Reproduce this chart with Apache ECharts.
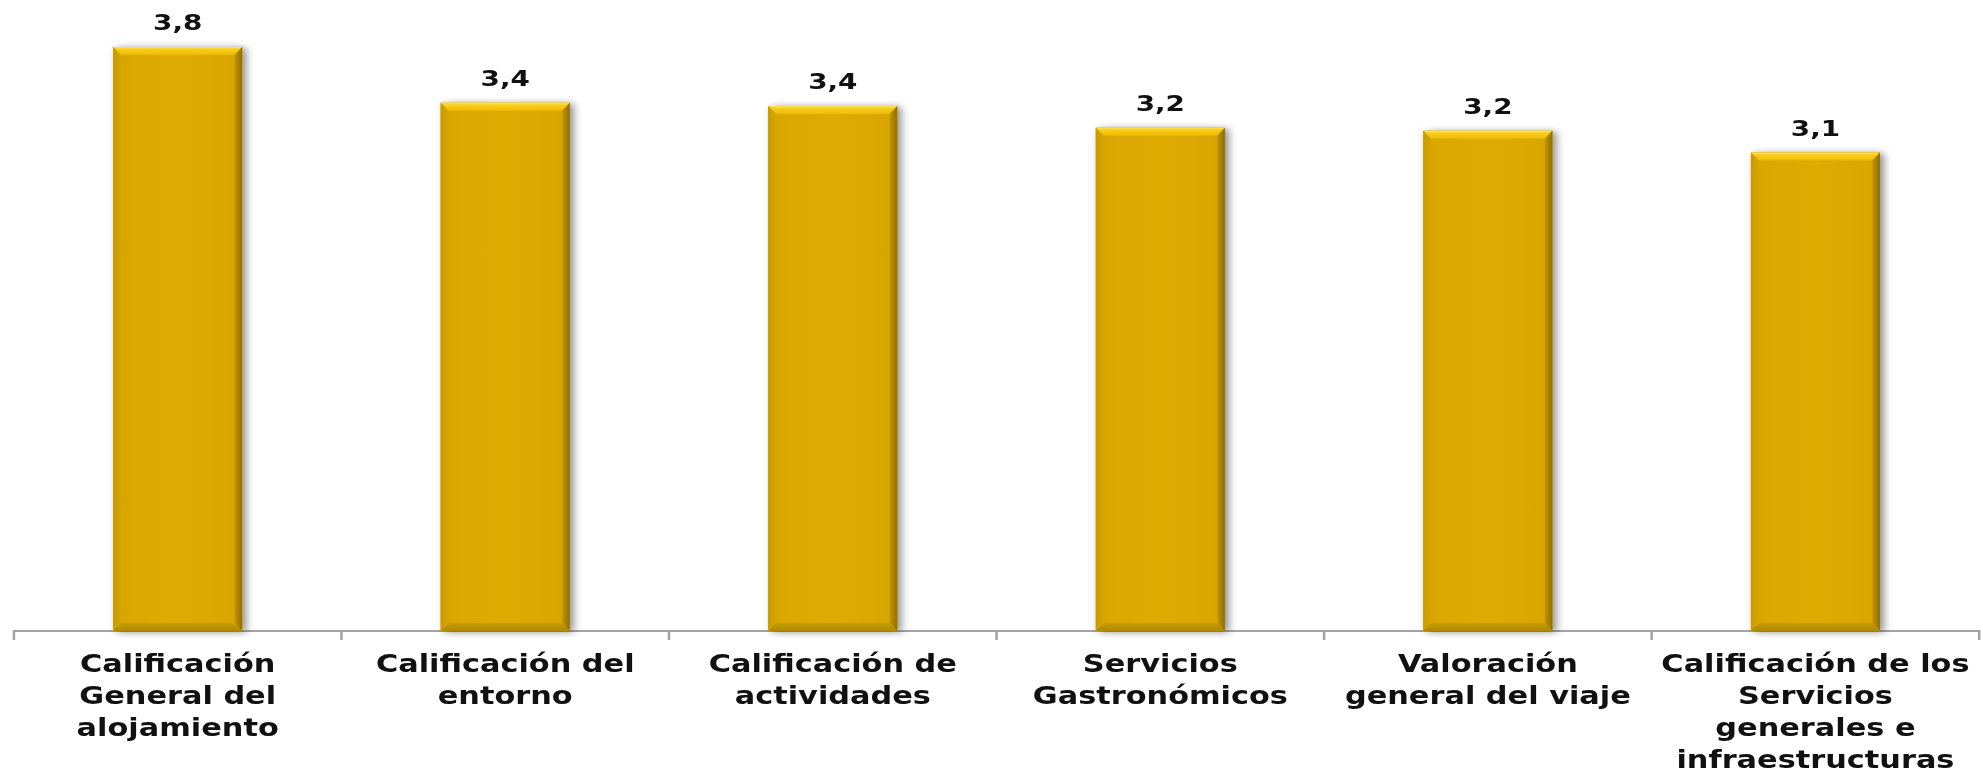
<!DOCTYPE html>
<html>
<head>
<meta charset="utf-8">
<script src="https://cdn.jsdelivr.net/npm/echarts@6/dist/echarts.min.js"></script>
<style>
html,body{margin:0;padding:0;background:#fff;overflow:hidden;}
#wrap{width:1983px;height:776px;overflow:hidden;}
#c{width:1568px;height:776px;transform:scaleX(1.26467);transform-origin:0 0;}
</style>
</head>
<body>
<div id="wrap"><div id="c"></div></div>
<script>
const categories = [
  'Calificación\nGeneral del\nalojamiento',
  'Calificación del\nentorno',
  'Calificación de\nactividades',
  'Servicios\nGastronómicos',
  'Valoración\ngeneral del viaje',
  'Calificación de los\nServicios\ngenerales e\ninfraestructuras'
];
const values = [3.76, 3.40, 3.38, 3.24, 3.22, 3.08];

const BAR_RATIO = 0.394;

function renderBevelBar(params, api) {
  const i = api.value(0), v = api.value(1);
  const top = api.coord([i, v]);
  const base = api.coord([i, 0]);
  const bw = api.size([1, 0])[0] * BAR_RATIO;
  const l = top[0] - bw / 2, r = top[0] + bw / 2, t = top[1], b = base[1];
  const dx = 6, dy = 8;
  return {
    type: 'group',
    children: [
      { type: 'rect', shape: { x: l, y: t, width: bw, height: b - t },
        style: { fill: '#DDAA02', shadowColor: 'rgba(0,0,0,0.45)', shadowBlur: 7, shadowOffsetX: 3, shadowOffsetY: 1 } },
      { type: 'rect', shape: { x: l, y: t, width: bw, height: b - t },
        style: { fill: { type: 'linear', x: 0, y: 0, x2: 1, y2: 0, colorStops: [
          { offset: 0, color: '#D9A600' }, { offset: 0.5, color: '#DEAB03' }, { offset: 1, color: '#D8A500' } ] } } },
      { type: 'polygon', shape: { points: [[l, t], [r, t], [r - dx, t + dy], [l + dx, t + dy]] },
        style: { fill: { type: 'linear', x: 0, y: 0, x2: 0, y2: 1, colorStops: [
          { offset: 0, color: '#FFE060' }, { offset: 0.35, color: '#F8CC14' }, { offset: 1, color: '#EDBB06' } ] } } },
      { type: 'polygon', shape: { points: [[r, t], [r, b], [r - dx, b - dy], [r - dx, t + dy]] },
        style: { fill: { type: 'linear', x: 0, y: 0, x2: 1, y2: 0, colorStops: [
          { offset: 0, color: '#C39400' }, { offset: 1, color: '#8E6E00' } ] } } },
      { type: 'polygon', shape: { points: [[l, t], [l + dx, t + dy], [l + dx, b - dy], [l, b]] },
        style: { fill: { type: 'linear', x: 0, y: 0, x2: 1, y2: 0, colorStops: [
          { offset: 0, color: '#C99B00' }, { offset: 1, color: '#D6A402' } ] } } },
      { type: 'polygon', shape: { points: [[l, b], [l + dx, b - dy], [r - dx, b - dy], [r, b]] },
        style: { fill: { type: 'linear', x: 0, y: 0, x2: 0, y2: 1, colorStops: [
          { offset: 0, color: '#C89A00' }, { offset: 1, color: '#B08800' } ] } } }
    ]
  };
}

const chart = echarts.init(document.getElementById('c'), null, { renderer: 'svg' });
chart.setOption({
  animation: false,
  backgroundColor: '#ffffff',
  grid: { left: 11, right: 3, top: 20, bottom: 143 },
  xAxis: {
    type: 'category',
    data: categories,
    axisLine: { lineStyle: { color: '#A3A3A3', width: 2 } },
    axisTick: { show: true, length: 9, lineStyle: { color: '#A3A3A3', width: 2 } },
    axisLabel: {
      interval: 0,
      margin: 17,
      color: '#111111',
      fontFamily: 'DejaVu Sans',
      fontWeight: 'bold',
      fontSize: 24,
      lineHeight: 32,
      align: 'center'
    }
  },
  yAxis: { type: 'value', min: 0, max: 3.933, show: false, splitLine: { show: false } },
  series: [
    {
      type: 'bar',
      data: values,
      barWidth: (BAR_RATIO * 100) + '%',
      itemStyle: { color: 'rgba(0,0,0,0)' },
      z: 1,
      label: {
        show: true,
        position: 'top',
        distance: 13,
        color: '#111111',
        fontFamily: 'DejaVu Sans',
        fontWeight: 'bold',
        fontSize: 22,
        formatter: p => p.value.toFixed(1).replace('.', ',')
      }
    },
    {
      type: 'custom',
      data: values.map((v, i) => [i, v]),
      encode: { x: 0, y: 1 },
      renderItem: renderBevelBar,
      z: 2
    }
  ]
});
</script>
</body>
</html>
